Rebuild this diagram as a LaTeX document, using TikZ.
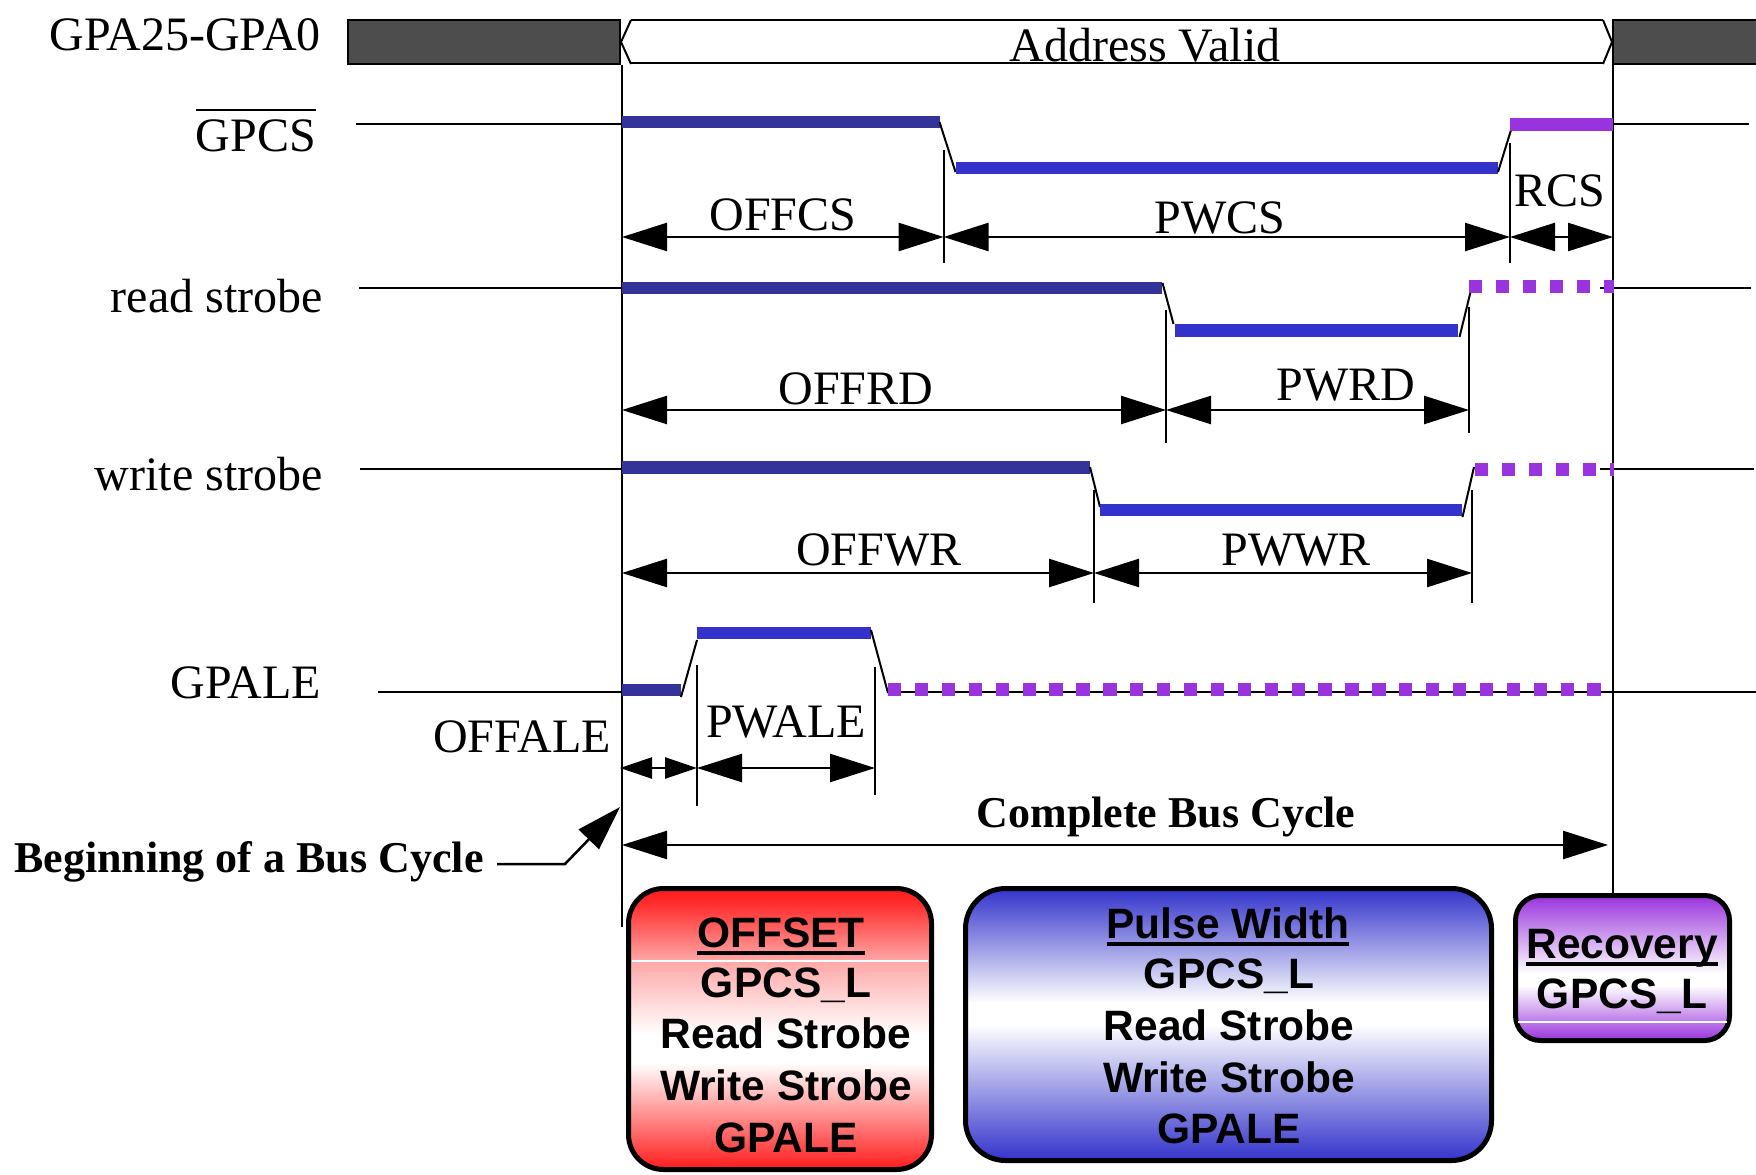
\documentclass[tikz,border=0pt]{standalone}
\usepackage{fontspec}
\setmainfont{Liberation Serif}
\newfontfamily\arialf{Liberation Sans}
\usetikzlibrary{arrows.meta}
\definecolor{navyc}{RGB}{51,51,153}
\definecolor{bluec}{RGB}{51,51,204}
\definecolor{purpc}{RGB}{153,51,221}
\definecolor{redc}{RGB}{255,26,26}
\definecolor{busgray}{RGB}{77,77,77}
\pgfdeclareverticalshading{offsh}{100bp}{color(0bp)=(redc); color(25bp)=(redc); color(44bp)=(white); color(49bp)=(white); color(62bp)=(redc!38!white); color(72bp)=(redc!90!white); color(75bp)=(redc); color(100bp)=(redc)}
\pgfdeclareverticalshading{pwsh}{100bp}{color(0bp)=(bluec); color(25bp)=(bluec); color(50bp)=(white); color(54bp)=(white); color(75bp)=(bluec); color(100bp)=(bluec)}
\pgfdeclareverticalshading{rcsh}{100bp}{color(0bp)=(purpc); color(25bp)=(purpc); color(44bp)=(white); color(48bp)=(white); color(75bp)=(purpc); color(100bp)=(purpc)}
\newcommand\ulbox[1]{\setbox0\hbox{#1}\rlap{\rule[-8pt]{\wd0}{4pt}}\box0}
\begin{document}
\begin{tikzpicture}[x=1pt,y=-1pt,
  lbl/.style={inner sep=0pt, font=\fontsize{48}{57}\selectfont},
  boldlbl/.style={inner sep=0pt, font=\fontsize{44}{52}\selectfont\bfseries},
  boxtxt/.style={inner sep=0pt, anchor=base, font=\arialf\fontsize{42.5}{51}\selectfont\bfseries},
  sigline/.style={line width=2pt, black},
  edgeline/.style={line width=2pt, black},
  markline/.style={line width=2pt, black},
  navyseg/.style={line width=12.5pt, navyc},
  blueseg/.style={line width=12.5pt, bluec},
  purpseg/.style={line width=13pt, purpc},
  purpdash/.style={line width=13pt, purpc, dash pattern=on 13.3pt off 13.6pt},
  dimarrow/.style={line width=2.5pt, {Triangle[length=45pt,width=28pt]}-{Triangle[length=45pt,width=28pt]}},
  smalldim/.style={line width=2.5pt, {Triangle[length=32pt,width=21pt]}-{Triangle[length=32pt,width=21pt]}},
  statebox/.style={draw=black, line width=5pt, inner sep=0pt}
]
\useasboundingbox (0,0) rectangle (1756,1175);

% ---------- signal names ----------
\node[lbl, anchor=base east] (lgpa) at (321,50) {GPA25-GPA0};
\node[lbl, anchor=base east] (lgpcs) at (316,151) {GPCS};
\draw[line width=2.6pt] ([yshift=9pt]lgpcs.north west) -- ([yshift=9pt]lgpcs.north east);
\node[lbl, anchor=base east] (lrd) at (323,312) {read strobe};
\node[lbl, anchor=base east] (lwr) at (323,490) {write strobe};
\node[lbl, anchor=base east] (lale) at (321,698) {GPALE};

% ---------- address bus ----------
\draw[line width=2pt, fill=busgray] (348,20) rectangle (620,64);
\draw[line width=2pt, fill=busgray] (1613,20) rectangle (1760,64);
\draw[line width=2pt] (631,20) -- (1603,20);
\draw[line width=2pt] (631,63) -- (1603,63);
\draw[line width=2pt] (631,20) -- (621,42) -- (631,64);
\draw[line width=2pt] (1603,20) -- (1612,42) -- (1603,64);
\node[lbl, anchor=base] (laddr) at (1145,61) {Address Valid};

% ---------- main verticals ----------
\draw[line width=2.5pt] (622,65) -- (622,927);
\draw[line width=2.5pt] (1613,65) -- (1613,893);

% ---------- GPCS ----------
\draw[sigline] (356,124) -- (622,124);
\draw[navyseg] (622,122) -- (940,122);
\draw[edgeline] (939.5,122) -- (955.5,172);
\draw[blueseg] (956,168) -- (1498,168);
\draw[edgeline] (1498,172) -- (1511,130);
\draw[purpseg] (1510,124) -- (1613,124);
\draw[sigline] (1613,124) -- (1749,124);
\draw[markline] (943.6,150) -- (943.6,263);
\draw[markline] (1510,143) -- (1510,263);
\draw[dimarrow] (622,237) -- (943.6,237);
\draw[dimarrow] (943.6,237) -- (1510,237);
\draw[dimarrow] (1510,237) -- (1613,237);
\node[lbl, anchor=base] (loffcs) at (783,230) {OFFCS};
\node[lbl, anchor=base] (lpwcs) at (1220,233) {PWCS};
\node[lbl, anchor=base] (lrcs) at (1560,206) {RCS};

% ---------- read strobe ----------
\draw[sigline] (359,288) -- (622,288);
\draw[navyseg] (622,288) -- (1162,288);
\draw[edgeline] (1162.5,283) -- (1173.5,324);
\draw[blueseg] (1175,330.5) -- (1458,330.5);
\draw[edgeline] (1459.5,337) -- (1471,290);
\draw[sigline] (1600,288) -- (1751,288);
\draw[purpdash] (1469,286) -- (1614,286);
\draw[markline] (1166,310) -- (1166,443);
\draw[markline] (1469,307) -- (1469,433);
\draw[dimarrow] (622,410) -- (1166,410);
\draw[dimarrow] (1166,410) -- (1469,410);
\node[lbl, anchor=base] (loffrd) at (856,404) {OFFRD};
\node[lbl, anchor=base] (lpwrd) at (1346,400) {PWRD};

% ---------- write strobe ----------
\draw[sigline] (360,469) -- (622,469);
\draw[navyseg] (622,467.5) -- (1090,467.5);
\draw[edgeline] (1090,467) -- (1100,507);
\draw[blueseg] (1100,510) -- (1462,510);
\draw[edgeline] (1462.5,517) -- (1474,467);
\draw[sigline] (1600,469) -- (1754,469);
\draw[purpdash] (1475,469.5) -- (1614,469.5);
\draw[markline] (1094,490) -- (1094,603);
\draw[markline] (1472,490) -- (1472,603);
\draw[dimarrow] (622,573) -- (1094,573);
\draw[dimarrow] (1094,573) -- (1472,573);
\node[lbl, anchor=base] (loffwr) at (879,565) {OFFWR};
\node[lbl, anchor=base] (lpwwr) at (1296,565) {PWWR};

% ---------- GPALE ----------
\draw[sigline] (378,692) -- (622,692);
\draw[navyseg] (622,690) -- (681,690);
\draw[edgeline] (681,697) -- (697,640);
\draw[blueseg] (697,633) -- (871,633);
\draw[edgeline] (871,630) -- (888,693);
\draw[sigline] (888,692) -- (1756,692);
\draw[purpdash] (888,689) -- (1602,689);
\draw[markline] (697,665) -- (697,806);
\draw[markline] (875,667) -- (875,795);
\draw[smalldim] (620,768) -- (697,768);
\draw[dimarrow] (697,768) -- (875,768);
\node[lbl, anchor=base] (loffale) at (522,752) {OFFALE};
\node[lbl, anchor=base] (lpwale) at (786,737) {PWALE};

% ---------- bus cycle ----------
\node[boldlbl, anchor=base] (lcbc) at (1166,827) {Complete Bus Cycle};
\draw[dimarrow] (622,845) -- (1608,845);
\node[boldlbl, anchor=base west] (lbeg) at (14,872) {Beginning of a Bus Cycle};
\coordinate (begtip) at (620,807);
\draw[line width=2.5pt, -{Triangle[length=45pt,width=28pt]}] (497,864) -- (565,864) -- (begtip);

% ---------- state boxes ----------
\node[statebox, rounded corners=35pt, minimum width=303pt, minimum height=281pt, shading=offsh] (offbox) at (780,1029) {};
\draw[white, line width=1.5pt] (632,961) -- (928,961);
\node[boxtxt] (o1) at (781,947) {\ulbox{OFFSET}};
\node[boxtxt] (o2) at (786,997) {GPCS\_L};
\node[boxtxt] (o3) at (786,1048) {Read Strobe};
\node[boxtxt] (o4) at (786,1100) {Write Strobe};
\node[boxtxt] (o5) at (786,1152) {GPALE};

\node[statebox, rounded corners=40pt, minimum width=526pt, minimum height=272pt, shading=pwsh] (pwbox) at (1228.5,1024.5) {};
\node[boxtxt] (p1) at (1228,938) {\ulbox{Pulse Width}};
\node[boxtxt] (p2) at (1229,988) {GPCS\_L};
\node[boxtxt] (p3) at (1229,1040) {Read Strobe};
\node[boxtxt] (p4) at (1229,1092) {Write Strobe};
\node[boxtxt] (p5) at (1229,1143) {GPALE};

\node[statebox, rounded corners=25pt, minimum width=214pt, minimum height=145pt, shading=rcsh] (rcbox) at (1622.5,968) {};
\draw[white, line width=1.5pt] (1518,1022) -- (1727,1022);
\node[boxtxt] (r1) at (1622,958) {\ulbox{Recovery}};
\node[boxtxt] (r2) at (1622,1008) {GPCS\_L};
\end{tikzpicture}
\end{document}
